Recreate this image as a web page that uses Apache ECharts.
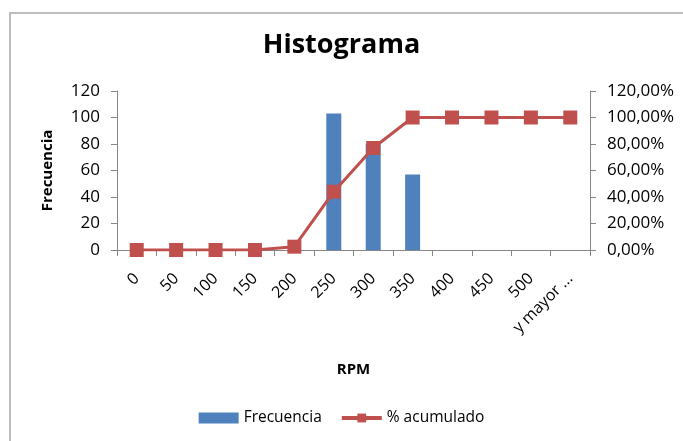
<!DOCTYPE html>
<html><head><meta charset="utf-8">
<script src="https://cdn.jsdelivr.net/npm/echarts@6/dist/echarts.min.js"></script>
<style>html,body{margin:0;padding:0;background:#fff}#c{width:683px;height:441px}</style>
</head><body><div id="c"></div>
<script>
const categories = ['0','50','100','150','200','250','300','350','400','450','500','y mayor ...'];
const frecuencia = [0,0,0,0,0,103,80,57,0,0,0,0];
const acumulado = [0,0,0,0,0.025,0.44,0.77,1,1,1,1,1];
const leftTicks = [0,120,20];
const rightTicks = [0,1.2,0.2];

const FONT = '"Open Sans", "Liberation Sans", sans-serif';
const chart = echarts.init(document.getElementById('c'), null, {renderer:'canvas'});
chart.setOption({
  animation:false,
  backgroundColor:'#fff',
  graphic:[{type:'polyline',shape:{points:[[10,441],[10,13],[683,13]]},style:{stroke:'#bdbdbd',lineWidth:2,fill:null}}],
  title:{text:'Histograma',left:'center',top:27,textStyle:{fontFamily:FONT,fontSize:27,fontWeight:'bold',color:'#000'}},
  grid:{left:117,right:93,top:91,bottom:191,containLabel:false},
  legend:{bottom:10,left:'center',itemGap:18,textStyle:{fontFamily:FONT,fontSize:15.5,color:'#000'},
    data:[{name:'Frecuencia',icon:'rect',itemStyle:{color:'#4F81BD'}},
          {name:'% acumulado',lineStyle:{width:4,color:'#C0504D'},itemStyle:{color:'#C0504D'}}],
    itemWidth:40,itemHeight:11},
  xAxis:{type:'category',data:categories,boundaryGap:true,
    name:'RPM',nameLocation:'middle',nameGap:112,nameTextStyle:{fontFamily:FONT,fontSize:15,fontWeight:'bold',color:'#000'},
    axisLine:{lineStyle:{color:'#868686',width:1}},
    axisTick:{show:true,length:6,lineStyle:{color:'#868686'}},
    axisLabel:{rotate:45,fontFamily:FONT,fontSize:16,color:'#000',margin:26,interval:0}},
  yAxis:[{type:'value',min:leftTicks[0],max:leftTicks[1],interval:leftTicks[2],
    name:'Frecuencia',nameLocation:'middle',nameGap:62,nameRotate:90,nameTextStyle:{fontFamily:FONT,fontSize:15,fontWeight:'bold',color:'#000'},
    axisLine:{show:true,lineStyle:{color:'#868686'}},axisTick:{show:true,length:6,lineStyle:{color:'#868686'}},
    splitLine:{show:false},axisLabel:{fontFamily:FONT,fontSize:17,color:'#000',margin:17}},
   {type:'value',min:rightTicks[0],max:rightTicks[1],interval:rightTicks[2],position:'right',
    axisLine:{show:true,lineStyle:{color:'#868686'}},axisTick:{show:true,length:6,lineStyle:{color:'#868686'}},
    splitLine:{show:false},axisLabel:{fontFamily:FONT,fontSize:17,color:'#000',margin:17,
      formatter:v=>(v*100).toFixed(2).replace('.',',')+'%'}}],
  series:[
    {name:'Frecuencia',type:'bar',data:frecuencia,barWidth:15,itemStyle:{color:'#4F81BD'},yAxisIndex:0},
    {name:'% acumulado',type:'line',data:acumulado,yAxisIndex:1,symbol:'rect',symbolSize:14,
      lineStyle:{color:'#C0504D',width:3},itemStyle:{color:'#C0504D'}}
  ]
});
</script></body></html>
